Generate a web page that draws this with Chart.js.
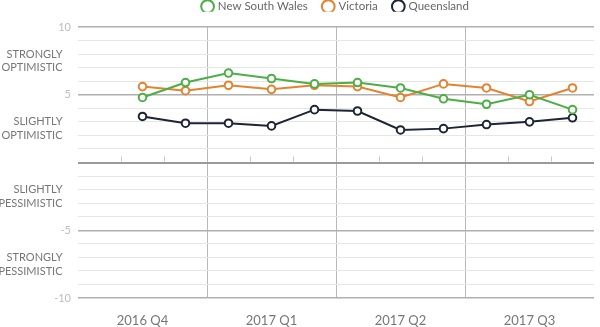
<!DOCTYPE html>
<html>
<head>
<meta charset="utf-8">
<script src="https://cdn.jsdelivr.net/npm/chart.js@4"></script>
<style>
html,body{margin:0;padding:0;background:#fff;}
#wrap{width:600px;height:327px;position:relative;}
</style>
</head>
<body>
<div id="wrap"><canvas id="c"></canvas></div>
<script>
// Monthly slots (Oct 2016 .. Sep 2017); series start in Nov 2016
const months = ['Oct 2016','Nov 2016','Dec 2016','Jan 2017','Feb 2017','Mar 2017','Apr 2017','May 2017','Jun 2017','Jul 2017','Aug 2017','Sep 2017'];
const quarterLabels = ['', '2016 Q4', '', '', '2017 Q1', '', '', '2017 Q2', '', '', '2017 Q3', ''];
const nswValues = [null, 4.8, 5.9, 6.6, 6.2, 5.8, 5.9, 5.5, 4.7, 4.3, 5.0, 3.9];
const vicValues = [null, 5.6, 5.3, 5.7, 5.4, 5.7, 5.6, 4.8, 5.8, 5.5, 4.5, 5.5];
const qldValues = [null, 3.4, 2.9, 2.9, 2.7, 3.9, 3.8, 2.4, 2.5, 2.8, 3.0, 3.3];
const seriesNames = ['New South Wales', 'Victoria', 'Queensland'];
const yTickValues = [-10,-9,-8,-7.5,-7,-6,-5,-4,-3,-2.5,-2,-1,0,1,2,2.5,3,4,5,6,7,7.5,8,9,10];
const yTickLabels = {
  '10': '10',
  '7.5': ['STRONGLY   ', 'OPTIMISTIC   '],
  '5': '5',
  '2.5': ['SLIGHTLY   ', 'OPTIMISTIC   '],
  '-2.5': ['SLIGHTLY   ', 'PESSIMISTIC   '],
  '-5': '-5',
  '-7.5': ['STRONGLY   ', 'PESSIMISTIC   '],
  '-10': '-10'
};
const quarterBoundaries = [3, 6, 9];

const colors = ['#4cae45', '#e5822d', '#1c2535'];

Chart.defaults.font.family = 'Lato, "Open Sans", sans-serif';

const LEGEND_PAD = 16;
const LEGEND_FONT = 11.5;

const helpers = {
  id: 'helpers',
  beforeLayout(chart) {
    const lg = chart.legend;
    if (lg && !lg._patched) {
      const fit = lg.fit;
      lg.fit = function () { fit.call(this); this.height = 27; };
      lg._patched = true;
    }
  },
  afterLayout(chart) {
    const lg = chart.legend;
    const ca = chart.chartArea;
    const shift = (ca.left + ca.right) / 2 - (lg.left + lg.right) / 2;
    lg.left += shift; lg.right += shift;
    const up = LEGEND_PAD + LEGEND_FONT / 2 - 6.5;
    lg.top -= up; lg.bottom -= up;
  },
  beforeDatasetsDraw(chart) {
    const x = chart.scales.x, y = chart.scales.y, ctx = chart.ctx;
    const y0 = y.getPixelForValue(0);
    ctx.save();
    ctx.strokeStyle = '#c8c8c8';
    ctx.lineWidth = 1;
    for (let i = 1; i < months.length; i++) {
      if (quarterBoundaries.includes(i)) continue;
      const px = Math.round(x.getPixelForValue(i - 0.5)) + 0.5;
      ctx.beginPath();
      ctx.moveTo(px, y0 - 6);
      ctx.lineTo(px, y0 - 1);
      ctx.stroke();
    }
    ctx.restore();
  }
};

const mk = (i, data) => ({
  label: seriesNames[i],
  data: data,
  borderColor: colors[i],
  backgroundColor: '#fff',
  pointBackgroundColor: '#fff',
  pointBorderColor: colors[i],
  pointBorderWidth: 2,
  pointRadius: 3.8,
  borderWidth: 2,
  tension: 0,
  pointStyle: 'circle'
});

new Chart(document.getElementById('c'), {
  type: 'line',
  data: {
    labels: months,
    datasets: [mk(0, nswValues), mk(1, vicValues), mk(2, qldValues)]
  },
  options: {
    responsive: true,
    maintainAspectRatio: false,
    animation: false,
    layout: { padding: { top: 0, right: 1, bottom: 0, left: 0 } },
    plugins: {
      tooltip: { enabled: false },
      legend: {
        position: 'top',
        labels: {
          usePointStyle: true,
          boxWidth: 9,
          boxHeight: 9,
          padding: LEGEND_PAD,
          color: '#666',
          font: { size: LEGEND_FONT }
        }
      }
    },
    scales: {
      x: {
        type: 'category',
        offset: true,
        border: { display: false },
        grid: {
          offset: true,
          drawTicks: false,
          color: (c) => quarterBoundaries.includes(c.index) ? '#b8b8b8' : 'rgba(0,0,0,0)',
          lineWidth: 1
        },
        ticks: {
          autoSkip: false,
          maxRotation: 0,
          padding: 15,
          color: '#777',
          font: { size: 13 },
          callback: (v, i) => quarterLabels[i]
        },
        afterFit: (s) => { s.height = 29; }
      },
      y: {
        min: -10,
        max: 10,
        border: { display: false },
        afterBuildTicks: (s) => { s.ticks = yTickValues.map(v => ({ value: v })); },
        afterFit: (s) => { s.width = 78; },
        grid: {
          drawTicks: false,
          color: (c) => {
            const v = c.tick.value;
            if (!Number.isInteger(v)) return 'rgba(0,0,0,0)';
            if (v === 0) return '#9a9a9a';
            if (v % 5 === 0) return '#b0b0b0';
            return '#e6e6e6';
          },
          lineWidth: (c) => {
            const v = c.tick.value;
            if (v === 0) return 2;
            if (v % 5 === 0) return 1.5;
            return 1;
          }
        },
        ticks: {
          autoSkip: false,
          padding: 7,
          font: { size: 11, lineHeight: 1.25 },
          color: (c) => Number.isInteger(c.tick.value) ? '#bdbdbd' : '#777',
          callback: (v) => yTickLabels[String(v)] || ''
        }
      }
    }
  },
  plugins: [helpers]
});
</script>
</body>
</html>
